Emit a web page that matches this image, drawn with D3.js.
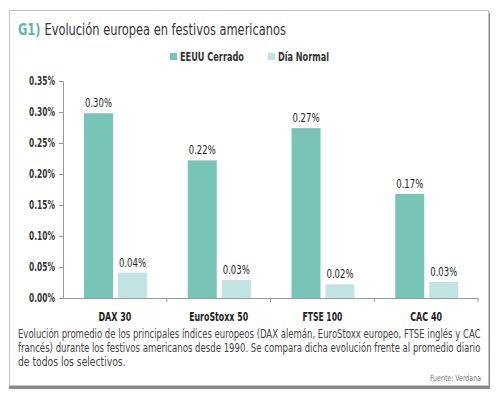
<!DOCTYPE html>
<html lang="es">
  <head>
    <meta charset="UTF-8" />
    <title>Evolución europea en festivos americanos</title>
    <script src="https://d3js.org/d3.v7.min.js"></script>
    <style>
      body { margin: 0; background: #fff; }
      text { font-family: "DejaVu Sans Condensed", "Liberation Sans", sans-serif; }
    </style>
  </head>
  <body>
    <div id="chart"></div>
    <script>
      // data (values in %)
      const indices = ["DAX 30", "EuroStoxx 50", "FTSE 100", "CAC 40"];
      const seriesNames = ["EEUU Cerrado", "Día Normal"];
      const cerrado = [0.298, 0.222, 0.274, 0.168];
      const normal = [0.041, 0.029, 0.022, 0.026];
      const yTicks = [0, 0.05, 0.1, 0.15, 0.2, 0.25, 0.3, 0.35];
      const captionLines = [
        "Evolución promedio de los principales índices europeos (DAX alemán, EuroStoxx europeo, FTSE inglés y CAC",
        "francés) durante los festivos americanos desde 1990. Se compara dicha evolución frente al promedio diario",
        "de todos los selectivos.",
      ];

      const colors = ["#78c4b7", "#c1e4e2"];
      const W = 499, H = 398;
      const plot = { left: 63, right: 478, top: 81, bottom: 298 };
      const K = 0.82; // squeeze DejaVu to look like a condensed grotesque

      // narrow a text horizontally around its anchor x
      function squeeze(sel, k) {
        sel.each(function () {
          const t = d3.select(this);
          const ax = +(t.attr("x") || 0);
          t.attr("transform", `translate(${ax},0) scale(${k},1) translate(${-ax},0)`);
        });
      }
      // squeeze so the text ends up exactly w px wide
      function fitTo(sel, w) {
        sel.each(function () {
          const len = this.getComputedTextLength();
          squeeze(d3.select(this), w / len);
        });
      }

      const svg = d3.select("#chart").append("svg")
        .attr("width", W).attr("height", H);

      // frame with shadow
      svg.append("rect").attr("x", 9).attr("y", 13).attr("width", 481).attr("height", 376).attr("fill", "#8a8a8a");
      svg.append("rect").attr("x", 9.5).attr("y", 10.5).attr("width", 479).attr("height", 375)
        .attr("fill", "#fff").attr("stroke", "#c4c4c4");

      // title
      const title = svg.append("text").attr("x", 18).attr("y", 35).attr("font-size", 16).attr("fill", "#333");
      title.append("tspan").attr("fill", "#5cb8a6").attr("font-weight", "bold").text("G1) ");
      title.append("tspan").text("Evolución europea en festivos americanos");
      fitTo(title, 268);

      // legend
      const legendX = [170, 268];
      const legendW = [64, 51];
      seriesNames.forEach((s, i) => {
        const g = svg.append("g").attr("transform", `translate(${legendX[i]},53)`);
        g.append("rect").attr("width", 7).attr("height", 7).attr("fill", colors[i]);
        g.append("text").attr("x", 10).attr("y", 7.5).attr("font-size", 12)
          .attr("font-weight", "bold").attr("fill", "#333").text(s)
          .call(fitTo, legendW[i]);
      });

      const x = d3.scaleBand().domain(indices).range([plot.left, plot.right]);
      const y = d3.scaleLinear().domain([0, 0.35]).range([plot.bottom, plot.top]);
      const barW = 29, gap = 5, pad = 21;

      // y axis
      const yAxis = svg.append("g").attr("transform", `translate(${plot.left},0)`)
        .call(d3.axisLeft(y).tickValues(yTicks).tickSize(4).tickFormat(d => d.toFixed(2) + "%"));
      yAxis.select(".domain").attr("stroke", "#999");
      yAxis.selectAll(".tick line").attr("stroke", "#999");
      yAxis.selectAll(".tick text").attr("font-size", 12).attr("font-weight", "bold")
        .attr("fill", "#333").attr("x", -8).style("font-family", null)
        .call(fitTo, 26);

      // bars
      const rows = indices.map((k, i) => ({ k, v: [cerrado[i], normal[i]] }));
      const groups = svg.selectAll(".grp").data(rows).join("g")
        .attr("transform", d => `translate(${x(d.k)},0)`);
      [0, 1].forEach(s => {
        const bx = pad + s * (barW + gap);
        groups.append("rect")
          .attr("x", bx).attr("width", barW)
          .attr("y", d => y(d.v[s])).attr("height", d => y(0) - y(d.v[s]))
          .attr("fill", colors[s]);
        groups.append("text")
          .attr("x", bx + barW / 2).attr("y", d => y(d.v[s]) - 6)
          .attr("text-anchor", "middle").attr("font-size", 12).attr("fill", "#222")
          .text(d => d.v[s].toFixed(2) + "%")
          .call(fitTo, 27);
      });

      // x axis
      const xAxis = svg.append("g").attr("transform", `translate(0,${plot.bottom})`)
        .call(d3.axisBottom(x).tickSize(0).tickPadding(14));
      xAxis.select(".domain").attr("stroke", "#999");
      const catW = [33, 59, 40, 32];
      xAxis.selectAll(".tick text").attr("font-size", 13).attr("font-weight", "bold")
        .attr("fill", "#222").style("font-family", null)
        .each(function (d, i) { fitTo(d3.select(this), catW[i]); });
      // category separators
      xAxis.selectAll(".sep").data(indices).join("line")
        .attr("x1", d => x(d) + x.bandwidth()).attr("x2", d => x(d) + x.bandwidth())
        .attr("y1", 0).attr("y2", 4).attr("stroke", "#999");

      // caption
      svg.append("g").selectAll("text").data(captionLines).join("text")
        .attr("x", 18).attr("y", (d, i) => 338.5 + i * 14)
        .attr("font-size", 12.5).attr("fill", "#444")
        .text(d => d)
        .each(function (d, i) {
          if (i < 2) fitTo(d3.select(this), 463);
          else squeeze(d3.select(this), K);
        });

      svg.append("text").attr("x", 481).attr("y", 381).attr("text-anchor", "end")
        .attr("font-size", 8.5).attr("fill", "#777").text("Fuente: Verdana")
        .call(squeeze, K);
    </script>
  </body>
</html>
